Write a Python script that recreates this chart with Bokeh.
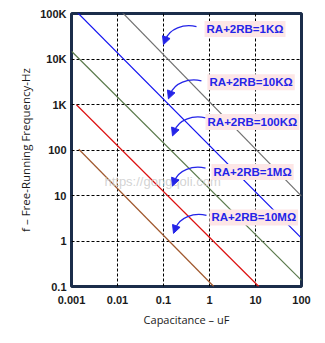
import math
from bokeh.plotting import figure
from bokeh.models import FixedTicker, Label, Arrow, NormalHead, Title
from bokeh.embed import file_html
from bokeh.resources import INLINE

# ---- data ----
series_names = ["RA+2RB=1KΩ", "RA+2RB=10KΩ", "RA+2RB=100KΩ", "RA+2RB=1MΩ", "RA+2RB=10MΩ"]
series_colors = ["#707070", "#1010f0", "#5b7a4c", "#dd1111", "#a0582e"]
cap_start = [0.0116, 0.00116, 0.001, 0.00128, 0.00144]   # uF
cap_end = [100, 95, 100, 11.8, 1.24]                    # uF
freq_start = [1.16e5, 1.22e5, 1.48e4, 985, 104]         # Hz
freq_end = [9.7, 1.22, 0.136, 0.1, 0.1]                 # Hz

x_ticks = [0.001, 0.01, 0.1, 1, 10, 100]
x_tick_labels = ["0.001", "0.01", "0.1", "1", "10", "100"]
y_ticks = [0.1, 1, 10, 100, 1000, 10000, 100000]
y_tick_labels = ["0.1", "1", "10", "100", "1K", "10K", "100K"]

# annotation placement (label left/centre, arrow tip)
label_cap = [0.78, 0.9, 0.82, 1.1, 1.0]
label_freq = [45500, 3080, 415, 32.7, 3.3]
tip_cap = [0.1, 0.128, 0.157, 0.157, 0.165]
tip_freq = [20700, 1330, 204, 16.1, 1.47]

p = figure(width=325, height=343, x_axis_type="log", y_axis_type="log",
           x_range=(0.001, 100), y_range=(0.1, 100000),
           output_backend="svg", toolbar_location=None,
           min_border_left=71, min_border_right=24, min_border_top=13, min_border_bottom=57)
p.background_fill_color = "white"
p.border_fill_color = "white"
p.outline_line_color = "#1b2d4a"
p.outline_line_width = 3

for ax, ticks, labels in ((p.xaxis[0], x_ticks, x_tick_labels), (p.yaxis[0], y_ticks, y_tick_labels)):
    ax.ticker = FixedTicker(ticks=ticks)
    ax.major_label_overrides = {t: l for t, l in zip(ticks, labels)}
    ax.axis_line_color = None
    ax.major_tick_line_color = None
    ax.minor_tick_line_color = None
    ax.major_tick_out = 0
    ax.major_tick_in = 0
    ax.minor_tick_out = 0
    ax.minor_tick_in = 0
    ax.major_label_text_font = "Liberation Sans"
    ax.major_label_text_font_style = "bold"
    ax.major_label_text_font_size = "11px"
    ax.major_label_text_color = "#1a1a1a"

p.xaxis.major_label_standoff = 9
p.yaxis.major_label_standoff = 5

for g, ax in ((p.xgrid[0], p.xaxis[0]), (p.ygrid[0], p.yaxis[0])):
    g.ticker = ax.ticker
    g.grid_line_color = "black"
    g.grid_line_dash = "3 2"
    g.grid_line_width = 1

# axis titles
p.add_layout(Title(text="Capacitance – uF", text_font="Open Sans", text_font_size="11px",
                   text_font_style="normal", text_color="#1a1a1a", align="center",
                   offset=-6, standoff=6), "below")
p.add_layout(Title(text="f – Free-Running Frequency-Hz", text_font="Open Sans", text_font_size="11.5px",
                   text_font_style="normal", text_color="#1a1a1a", align="center",
                   offset=10, standoff=9), "left")

# watermark
p.add_layout(Label(x=0.0052, y=20.7, text="https://gongqoli.com", text_font="Liberation Sans",
                   text_font_size="13px", text_color="#c8c8c8", text_alpha=0.8,
                   text_baseline="middle"))

for c0, c1, f0, f1, col in zip(cap_start, cap_end, freq_start, freq_end, series_colors):
    p.line([c0, c1], [f0, f1], line_color=col, line_width=1.2)

DX, DY = 46.0, 45.33
def off(c, f, dx, dy):
    return c * 10 ** (dx / DX), f * 10 ** (-dy / DY)

blue = "#2424e8"
for name, lc, lf, tc, tf in zip(series_names, label_cap, label_freq, tip_cap, tip_freq):
    p.add_layout(Label(x=lc, y=lf, text=name, text_font="Liberation Sans", text_font_style="bold",
                       text_font_size="11.5px", text_color=blue, text_baseline="middle",
                       background_fill_color="#fde6e6", padding=2))
    x0, y0 = off(tc, tf, 33, -18)
    cx0, cy0 = off(tc, tf, 20, -21)
    cx1, cy1 = off(tc, tf, 6, -16)
    x1, y1 = off(tc, tf, 2, -5)
    p.bezier(x0=[x0], y0=[y0], x1=[x1], y1=[y1], cx0=[cx0], cy0=[cy0], cx1=[cx1], cy1=[cy1],
             line_color=blue, line_width=1.3)
    sx, sy = off(tc, tf, 3, -8)
    p.add_layout(Arrow(x_start=sx, y_start=sy, x_end=tc, y_end=tf, line_alpha=0,
                       end=NormalHead(size=8, fill_color=blue, line_color=blue)))

open("out.html", "w").write(file_html(p, INLINE))
